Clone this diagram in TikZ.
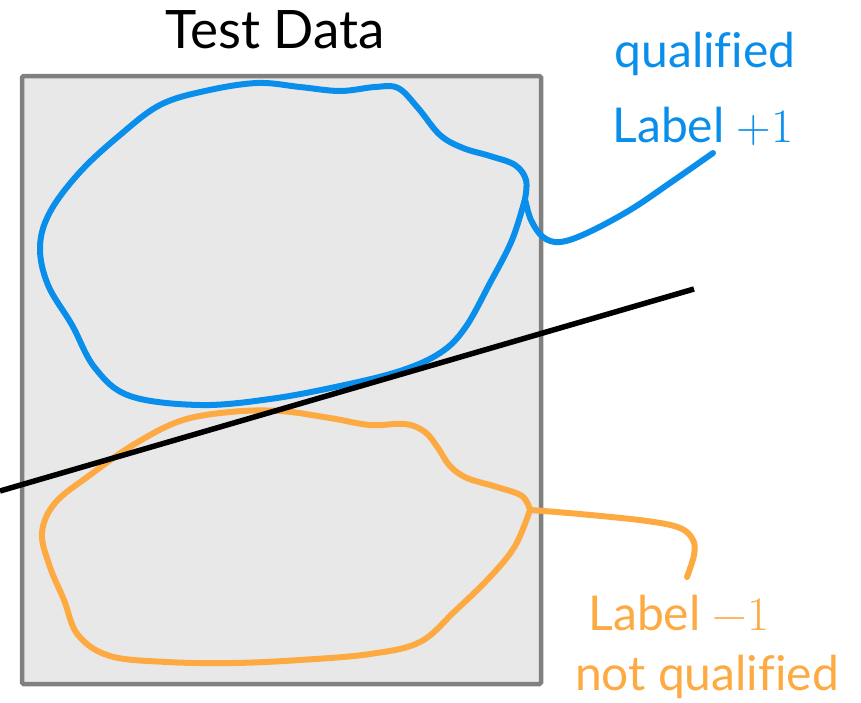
\documentclass[tikz,border=0pt]{standalone}
\usepackage{fontspec}
\newfontfamily\lmr{Latin Modern Roman}
\setmainfont{Lato}[Ligatures=NoCommon]
\definecolor{qblue}{RGB}{10,142,235}
\definecolor{qorange}{RGB}{253,170,67}
\definecolor{boxgray}{RGB}{128,128,128}
\definecolor{boxfill}{RGB}{232,232,232}
\begin{document}
\begin{tikzpicture}[x=1pt,y=-1pt,
  blob/.style={line width=6pt,line cap=round,line join=round},
  lbl/.style={font=\fontsize{48}{57}\selectfont,inner sep=0pt,anchor=base}]
\useasboundingbox (0,0) rectangle (861,702);

% data set frame
\draw[boxgray,fill=boxfill,line width=4.5pt,rounded corners=1.5pt] (22,76) rectangle (541,684);
\node[lbl,font=\fontsize{53}{62}\selectfont] (title) at (275,48) {Test Data};

% qualified cluster
\coordinate (bcusp) at (525,199);
\draw[blob,qblue] plot[smooth,tension=0.6] coordinates {
  (525,199) (526,180) (515,165) (490,156) (463,148) (440,135) (418,108)
  (398,88) (375,87) (340,91) (300,87) (257,83) (205,91) (160,105)
  (120,135) (80,172) (50,212) (40,247) (48,285) (72,325) (95,368)
  (130,396) (200,405) (270,399) (340,386) (400,371) (440,353)
  (465,328) (490,283) (512,240) (525,199)};

% non-qualified cluster
\coordinate (ocusp) at (530,510);
\draw[blob,qorange] plot[smooth,tension=0.6] coordinates {
  (530,510) (522,496) (497,487) (467,478) (450,466) (438,448)
  (425,432) (405,424) (370,425) (330,418) (280,411) (230,412)
  (180,421) (133,445) (90,475) (55,503) (42,533)
  (50,567) (64,600) (78,635) (110,656) (167,662) (233,663)
  (300,660) (370,654) (420,642) (455,611) (490,577)
  (515,546) (530,510)};

% separating line
\coordinate (sepA) at (0,491);
\coordinate (sepB) at (694,289);
\draw[line width=5.5pt] (sepA) -- (sepB);

% labels
\node[lbl,text=qblue] (qual) at (705,67) {qualified};
\node[lbl,text=qblue] (lplus) at (703,142) {Label {\lmr +1}};
\node[lbl,text=qorange] (lminus) at (679,630) {Label {\lmr −1}};
\node[lbl,text=qorange] (notq) at (707,690) {not qualified};

% leader curves from clusters to labels
\coordinate (btail) at (713,153);
\coordinate (otail) at (687,577);
\draw[blob,qblue] plot[smooth,tension=0.6] coordinates {
  (bcusp) (531,220) (543,237) (560,242) (587,233) (630,210) (670,183) (btail)};
\draw[blob,qorange] plot[smooth,tension=0.6] coordinates {
  (ocusp) (580,514) (647,521) (680,528) (693,540) (694,555) (otail)};
\end{tikzpicture}
\end{document}
